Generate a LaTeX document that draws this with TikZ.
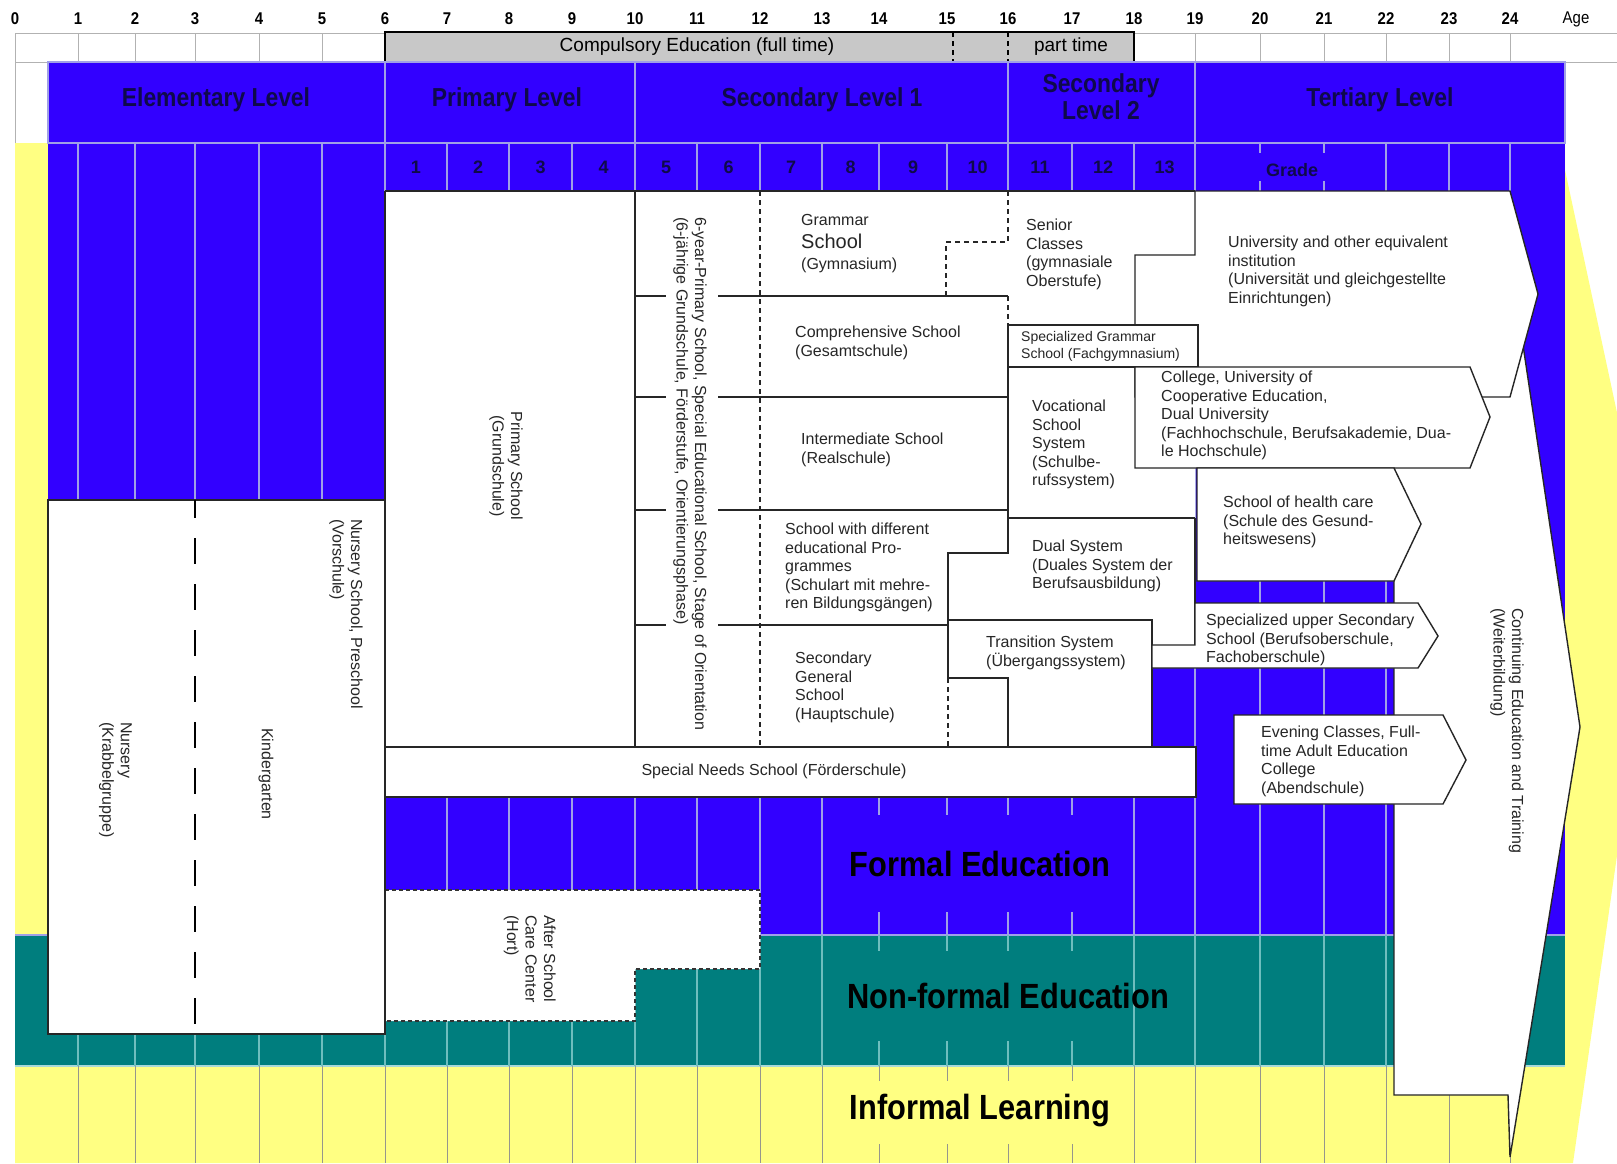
\documentclass[tikz,border=0pt]{standalone}
\usepackage{fontspec}
\setmainfont{Liberation Sans}
\newfontfamily\narrowfont{Liberation Sans}[FakeStretch=0.88]
\usetikzlibrary{positioning}

\definecolor{formalblue}{RGB}{50,0,255}
\definecolor{nonformalteal}{RGB}{0,126,126}
\definecolor{informalyellow}{RGB}{255,255,130}
\definecolor{gridblue}{RGB}{160,160,230}
\definecolor{gridteal}{RGB}{110,190,190}
\definecolor{gridyellow}{RGB}{150,150,140}
\definecolor{headnavy}{RGB}{15,10,75}
\definecolor{compgray}{RGB}{200,200,200}

\begin{document}
\begin{tikzpicture}[x=1pt,y=-1pt,
    levelbox/.style={fill=formalblue,draw=black!70,line width=0.8pt,double=gridblue,double distance=1.2pt},
    gradecell/.style={draw=black!75,line width=0.8pt,double=gridblue,double distance=1.2pt},
    levellabel/.style={font=\narrowfont\bfseries\fontsize{26}{27}\selectfont,text=headnavy,align=center},
    gradelabel/.style={font=\bfseries\fontsize{18}{20}\selectfont,text=headnavy},
    agelabel/.style={font=\narrowfont\bfseries\fontsize{17}{20}\selectfont},
    bandlabel/.style={font=\narrowfont\bfseries\fontsize{35}{40}\selectfont},
    bluegrid/.style={draw=gridblue,line width=2.6pt},
    tealgrid/.style={draw=gridteal,line width=2.6pt},
    yellowgrid/.style={draw=gridyellow,line width=1pt},
    toprow/.style={draw=black!30,line width=1pt},
    schoolbox/.style={fill=white,draw=black!85,line width=1.4pt},
    schoolline/.style={draw=black!85,line width=1.4pt},
    dashline/.style={draw=black!85,line width=1.4pt,dash pattern=on 5pt off 4pt},
    hortline/.style={draw=black!80,line width=1.6pt,dash pattern=on 4pt off 3pt},
    nurseryline/.style={draw=black,line width=2pt,dash pattern=on 26pt off 20pt,dash phase=8pt},
    boxtext/.style={font=\fontsize{16}{18.5}\selectfont,text=black!85,align=left,inner sep=0pt},
    sidetext/.style={boxtext,rotate=-90,anchor=north west}]

\clip (0,0) rectangle (1617,1163);
\fill[white] (0,0) rectangle (1617,1163);

\fill[informalyellow] (15,143) -- (1565,143) -- (1565,170) -- (1655,590) -- (1573,1163) -- (15,1163) -- cycle;
\fill[formalblue] (48,62) rectangle (1565,935);
\fill[nonformalteal] (15,935) rectangle (1565,1066);
\draw[draw=gridblue,line width=1.5pt] (15,935) -- (1565,935);
\draw[draw=gridteal!60!white,line width=1.5pt] (15,1066) -- (1565,1066);

\foreach \gx in {78,135,195,259,322,1386,1449,1510}
  \draw[bluegrid] (\gx,143) -- (\gx,935);
\foreach \gx in {447,509,572,635,697,760,822,1134,1195,1260,1324}
  \draw[bluegrid] (\gx,191) -- (\gx,935);
\foreach \gx in {78,135,195,259,322,385,447,509,572,635,697,760,822,1134,1195,1260,1324,1386,1449,1510} {
  \draw[tealgrid] (\gx,935) -- (\gx,1066);
  \draw[yellowgrid] (\gx,1066) -- (\gx,1163);
}
\foreach \gx in {879,947,1008,1072} {
  \draw[bluegrid] (\gx,797) -- (\gx,815) (\gx,912) -- (\gx,935);
  \draw[tealgrid] (\gx,935) -- (\gx,951) (\gx,1041) -- (\gx,1066);
  \draw[yellowgrid] (\gx,1066) -- (\gx,1081) (\gx,1144) -- (\gx,1163);
}

\draw[toprow] (15,33) -- (1617,33) (15,62) -- (1617,62) (15,33) -- (15,143);
\foreach \gx in {78,135,195,259,322,385,447,509,572,635,697,760,822,879,947,1008,1072,1134,1195,1260,1324,1386,1449,1510}
  \draw[toprow] (\gx,33) -- (\gx,62);
\draw[fill=compgray,draw=black,line width=2.4pt] (385,32) rectangle (1134,62);
\draw[draw=black,line width=2pt,dash pattern=on 5pt off 4pt] (953,32) -- (953,62) (1008,32) -- (1008,62);
\node[font=\fontsize{19}{22}\selectfont] (compulsory) at (697,47) {Compulsory Education (full time)};
\node[font=\fontsize{19}{22}\selectfont] (parttime) at (1071,47) {part time};

\foreach \ax [count=\ai from 0] in {15,78,135,195,259,322,385,447,509,572,635,697,760,822,879,947,1008,1072,1134,1195,1260,1324,1386,1449,1510}
  \node[agelabel] (age\ai) at (\ax,19) {\ai};
\node[agelabel,font=\narrowfont\fontsize{17}{20}\selectfont] (agetitle) at (1576,19) {Age};

\draw[levelbox] (48,62) rectangle (385,143);
\draw[levelbox] (385,62) rectangle (635,143);
\draw[levelbox] (635,62) rectangle (1008,143);
\draw[levelbox] (1008,62) rectangle (1195,143);
\draw[levelbox] (1195,62) rectangle (1565,143);
\node[levellabel] (elementary) at (216,100) {Elementary Level};
\node[levellabel] (primarylevel) at (507,100) {Primary Level};
\node[levellabel] (secondaryone) at (822,100) {Secondary Level 1};
\node[levellabel] (secondarytwo) at (1101,97) {Secondary\\Level 2};
\node[levellabel] (tertiary) at (1380,100) {Tertiary Level};

\foreach \cx/\nx [count=\gi] in {385/447,447/509,509/572,572/635,635/697,697/760,760/822,822/879,879/947,947/1008,1008/1072,1072/1134,1134/1195} {
  \draw[gradecell] (\cx,143) rectangle (\nx,191);
  \node[gradelabel] (grade\gi) at ({(\cx+\nx)/2},167) {\gi};
}
\foreach \gx in {1260,1324}
  \draw[bluegrid] (\gx,143) -- (\gx,153) (\gx,181) -- (\gx,191);
\node[gradelabel] (gradetitle) at (1292,170) {Grade};

\fill[white] (1394,1095) -- (1394,191) -- (1500,191) -- (1580,727) -- (1510,1157) -- (1508,1095) -- cycle;
\draw[schoolline] (1394,581) -- (1394,1095) -- (1508,1095) -- (1510,1157) -- (1580,727) -- (1500,191);

\fill[white] (385,191) -- (1195,191) -- (1195,645) -- (1152,645) -- (1152,747) -- (385,747) -- cycle;
\draw[schoolline] (385,191) -- (1195,191);
\draw[schoolline] (385,191) -- (385,747);
\draw[schoolline] (635,191) -- (635,747);
\draw[dashline] (760,191) -- (760,747);
\foreach \hy in {296,397,510}
  \draw[schoolline] (635,\hy) -- (666,\hy) (718,\hy) -- (1008,\hy);
\draw[schoolline] (635,625) -- (666,625) (718,625) -- (948,625);
\draw[dashline] (1008,191) -- (1008,242) -- (946,242) -- (946,296);
\draw[dashline] (1008,296) -- (1008,325);
\draw[schoolline] (1008,325) -- (1008,553) -- (948,553) -- (948,678);
\draw[dashline] (948,678) -- (948,747);
\draw[schoolline] (948,678) -- (1008,678) -- (1008,747);
\draw[schoolline] (1008,518) -- (1195,518);
\draw[schoolline] (1195,518) -- (1195,645);
\draw[schoolline] (948,620) -- (1152,620) -- (1152,747);
\draw[schoolbox] (385,747) rectangle (1196,797);

\draw[schoolbox] (1135,255) -- (1195,255) -- (1195,191) -- (1510,191) -- (1538,294) -- (1510,397) -- (1135,397) -- cycle;
\draw[schoolbox] (1008,325) rectangle (1198,367);
\draw[schoolbox] (1135,367) -- (1470,367) -- (1490,417) -- (1470,468) -- (1135,468) -- cycle;
\draw[schoolbox] (1197,468) -- (1394,468) -- (1421,524) -- (1394,581) -- (1197,581) -- cycle;
\draw[schoolbox] (1195,603) -- (1418,603) -- (1438,636) -- (1418,668) -- (1152,668) -- (1152,645) -- (1195,645) -- cycle;
\draw[schoolbox] (1234,715) -- (1443,715) -- (1466,760) -- (1443,804) -- (1234,804) -- cycle;

\fill[white] (385,890) -- (760,890) -- (760,969) -- (635,969) -- (635,1021) -- (385,1021) -- cycle;
\draw[hortline] (385,890) -- (760,890) -- (760,969) -- (635,969) -- (635,1021) -- (385,1021);
\draw[schoolbox] (48,500) rectangle (385,1034);
\draw[nurseryline] (195,500) -- (195,1034);

\node[boxtext,anchor=west] (grammarA) at (801,220) {Grammar};
\node[boxtext,anchor=west,font=\fontsize{20}{22}\selectfont] (grammarB) at (801,241) {School};
\node[boxtext,anchor=west] (grammarC) at (801,265) {(Gymnasium)};
\node[boxtext,anchor=north west] (comprehensive) at (795,326) {Comprehensive School\\(Gesamtschule)};
\node[boxtext,anchor=north west] (intermediate) at (801,433) {Intermediate School\\(Realschule)};
\node[boxtext,anchor=north west] (multiple) at (785,523) {School with different\\educational Pro-\\grammes\\(Schulart mit mehre-\\ren Bildungsgängen)};
\node[boxtext,anchor=north west] (general) at (795,652) {Secondary\\General\\School\\(Hauptschule)};
\node[boxtext,anchor=north west] (senior) at (1026,219) {Senior\\Classes\\(gymnasiale\\Oberstufe)};
\node[boxtext,anchor=north west,font=\fontsize{14}{17}\selectfont] (specgrammar) at (1021,331) {Specialized Grammar\\School (Fachgymnasium)};
\node[boxtext,anchor=north west] (vocational) at (1032,400) {Vocational\\School\\System\\(Schulbe-\\rufssystem)};
\node[boxtext,anchor=north west] (dual) at (1032,540) {Dual System\\(Duales System der\\Berufsausbildung)};
\node[boxtext,anchor=north west] (transition) at (986,636) {Transition System\\(Übergangssystem)};
\node[boxtext,anchor=north west] (university) at (1228,236) {University and other equivalent\\institution\\(Universität und gleichgestellte\\Einrichtungen)};
\node[boxtext,anchor=north west] (college) at (1161,371) {College, University of\\Cooperative Education,\\Dual University\\(Fachhochschule, Berufsakademie, Dua-\\le Hochschule)};
\node[boxtext,anchor=north west] (health) at (1223,496) {School of health care\\(Schule des Gesund-\\heitswesens)};
\node[boxtext,anchor=north west] (specupper) at (1206,614) {Specialized upper Secondary\\School (Berufsoberschule,\\Fachoberschule)};
\node[boxtext,anchor=north west] (evening) at (1261,726) {Evening Classes, Full-\\time Adult Education\\College\\(Abendschule)};
\node[boxtext] (specneeds) at (774,771) {Special Needs School (Förderschule)};

\node[boxtext,rotate=-90,align=center] (primary) at (506,466) {Primary School\\(Grundschule)};
\node[sidetext] (sixyear) at (707,217) {6-year-Primary School, Special Educational School, Stage of Orientation\\(6-jährige Grundschule, Förderstufe, Orientierungsphase)};
\node[sidetext] (preschool) at (363,519) {Nursery School, Preschool\\(Vorschule)};
\node[sidetext] (nursery) at (132,722) {Nursery\\(Krabbelgruppe)};
\node[boxtext,rotate=-90] (kindergarten) at (266,774) {Kindergarten};
\node[sidetext] (hort) at (556,915) {After School\\Care Center\\(Hort)};
\node[sidetext] (continuing) at (1524,608) {Continuing Education and Training\\(Weiterbildung)};

\node[bandlabel] (formal) at (980,864) {Formal Education};
\node[bandlabel] (nonformal) at (1008,996) {Non-formal Education};
\node[bandlabel] (informal) at (980,1111) {Informal Learning};

\end{tikzpicture}
\end{document}
